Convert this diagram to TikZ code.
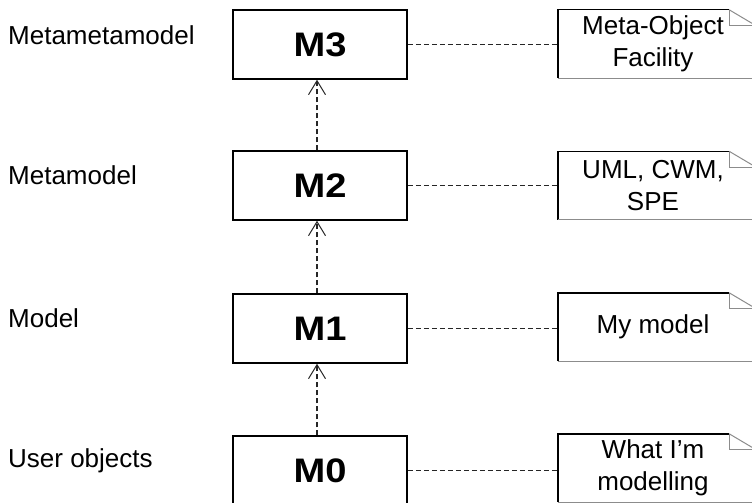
\documentclass[tikz,border=0pt]{standalone}
\usepackage{fontspec}
\setmainfont{Liberation Sans}
\newfontfamily\boxfont[FakeStretch=1.12]{Liberation Sans}
\usetikzlibrary{arrows.meta,calc}
\tikzset{
  level/.style={draw=black, line width=1.5pt, minimum width=174pt, minimum height=69pt,
    inner sep=0pt, font=\boxfont\bfseries\fontsize{34}{36}\selectfont},
  notebox/.style={minimum width=190pt, minimum height=68pt, inner sep=0pt, align=center,
    font=\fontsize{26}{32}\selectfont},
  lvllabel/.style={anchor=base west, inner sep=0pt, font=\fontsize{26}{30}\selectfont},
  dep/.style={draw=black!85, line width=1.6pt, dash pattern=on 5pt off 3pt},
  inst/.style={dep, -{Straight Barb[length=14pt,width=17pt,line width=1pt]}},
  noteline/.style={draw=black, line width=1.4pt},
  foldline/.style={draw=black!45, line width=1pt}
}
\newcommand{\notedraw}[1]{%
  \draw[noteline] ($(#1.north east)+(-19,0)$) -- (#1.north west) -- (#1.south west);
  \draw[foldline] (#1.south west) -- ($(#1.south east)+(8,0)$);
  \draw[foldline] ($(#1.north east)+(-19,0)$) -- ($(#1.north east)+(-19,16)$) -- ($(#1.north east)+(8,16)$);
  \draw[foldline] ($(#1.north east)+(-19,0)$) -- ($(#1.north east)+(8,16)$);
}
\begin{document}
\begin{tikzpicture}[x=1pt,y=-1pt]
\useasboundingbox[fill=white] (0,0) rectangle (752,503);

\node[level] (m3) at (320,44.5) {M3};
\node[level] (m2) at (320,185.5) {M2};
\node[level] (m1) at (320,328.5) {M1};
\node[level] (m0) at (320,470.5) {M0};

\node[lvllabel] (l3) at (8,45) {Metametamodel};
\node[lvllabel] (l2) at (8,184) {Metamodel};
\node[lvllabel] (l1) at (8,327) {Model};
\node[lvllabel] (l0) at (8,467) {User objects};

\node[notebox] (n3) at (653,44) {Meta-Object\\Facility};
\node[notebox] (n2) at (653,185.5) {UML, CWM,\\SPE};
\node[notebox] (n1) at (653,327) {My model};
\node[notebox] (n0) at (653,468) {What I’m\\modelling};
\notedraw{n3}
\notedraw{n2}
\notedraw{n1}
\notedraw{n0}

\draw[dep] (m3.east) -- (m3.east -| n3.west);
\draw[dep] (m2.east) -- (m2.east -| n2.west);
\draw[dep] (m1.east) -- (m1.east -| n1.west);
\draw[dep] (m0.east) -- (m0.east -| n0.west);

\draw[inst] ([xshift=-3pt]m2.north) -- ([xshift=-3pt]m3.south);
\draw[inst] ([xshift=-3pt]m1.north) -- ([xshift=-3pt]m2.south);
\draw[inst] ([xshift=-3pt]m0.north) -- ([xshift=-3pt]m1.south);
\end{tikzpicture}
\end{document}
